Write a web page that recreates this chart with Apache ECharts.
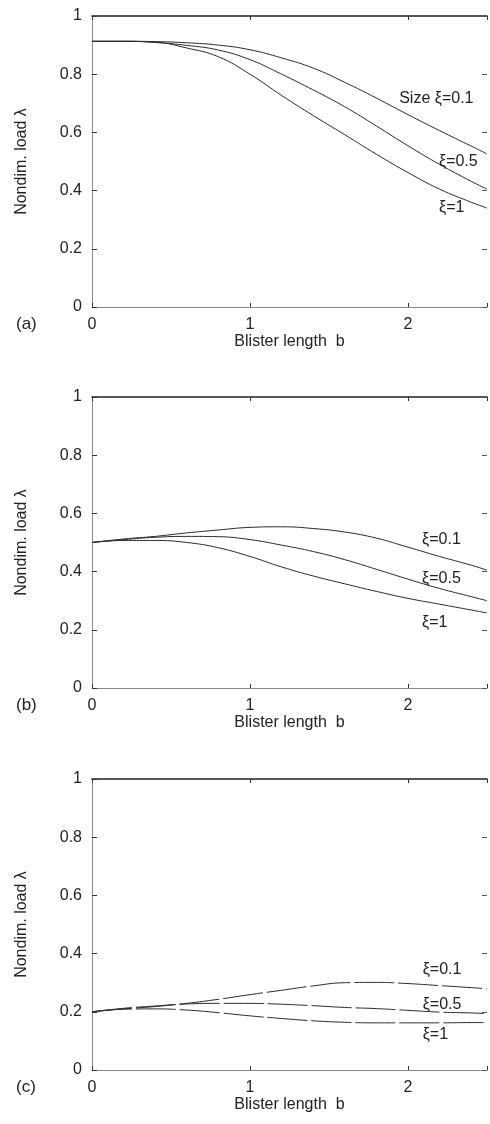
<!DOCTYPE html>
<html>
<head>
<meta charset="utf-8">
<script src="https://cdn.jsdelivr.net/npm/echarts@6/dist/echarts.min.js"></script>
<style>
  html, body { margin: 0; padding: 0; background: #fff; }
  #bucklingCharts { width: 490px; height: 1124px; }
</style>
</head>
<body>
<div id="bucklingCharts"></div>
<script>
// blister length b (x axis)
var blisterLength = [0, 0.2, 0.4, 0.6, 0.8, 1.0, 1.2, 1.4, 1.6, 1.8, 2.0, 2.2, 2.4, 2.5];

// (a) nondim. load, sizes xi = 0.1, 0.5, 1
var loadA01 = [0.913, 0.913, 0.912, 0.908, 0.900, 0.884, 0.856, 0.821, 0.772, 0.718, 0.661, 0.606, 0.553, 0.526];
var loadA05 = [0.913, 0.913, 0.909, 0.899, 0.883, 0.850, 0.800, 0.746, 0.688, 0.622, 0.554, 0.490, 0.432, 0.405];
var loadA1 = [0.913, 0.913, 0.910, 0.890, 0.860, 0.800, 0.727, 0.658, 0.592, 0.525, 0.462, 0.405, 0.360, 0.340];

// (b)
var loadB01 = [0.500, 0.512, 0.521, 0.533, 0.543, 0.552, 0.554, 0.548, 0.536, 0.515, 0.484, 0.452, 0.422, 0.405];
var loadB05 = [0.500, 0.510, 0.518, 0.521, 0.520, 0.510, 0.491, 0.469, 0.441, 0.408, 0.374, 0.342, 0.314, 0.300];
var loadB1 = [0.500, 0.507, 0.507, 0.500, 0.482, 0.452, 0.416, 0.385, 0.358, 0.332, 0.308, 0.288, 0.268, 0.258];

// (c)
var loadC01 = [0.200, 0.210, 0.218, 0.229, 0.243, 0.259, 0.274, 0.289, 0.300, 0.301, 0.297, 0.290, 0.283, 0.279];
var loadC05 = [0.200, 0.212, 0.220, 0.227, 0.229, 0.229, 0.226, 0.221, 0.215, 0.211, 0.205, 0.199, 0.196, 0.194];
var loadC1 = [0.200, 0.209, 0.210, 0.206, 0.197, 0.186, 0.177, 0.169, 0.164, 0.162, 0.162, 0.162, 0.163, 0.163];

var xTickLabels = ["0", "1", "2"];
var panelNames = ["(a)", "(b)", "(c)"];
var panelTops = [16, 397, 779];

// curve labels: [text, b, lambda]
var labelsA = [["Size ξ=0.1", 1.944, 0.716], ["ξ=0.5", 2.196, 0.499], ["ξ=1", 2.196, 0.341]];
var labelsB = [["ξ=0.1", 2.089, 0.511], ["ξ=0.5", 2.089, 0.376], ["ξ=1", 2.089, 0.226]];
var labelsC = [["ξ=0.1", 2.093, 0.346], ["ξ=0.5", 2.093, 0.226], ["ξ=1", 2.093, 0.12]];

var font = "'Liberation Sans', Arial, sans-serif";
var textColor = "#222";

function pairs(ys) {
  return blisterLength.map(function (b, i) {
    return [b, ys[i]];
  });
}

function curve(idx, ys, dashed, marks) {
  var s = {
    type: "line",
    xAxisIndex: idx * 2,
    yAxisIndex: idx * 2,
    data: pairs(ys),
    smooth: 0.45,
    showSymbol: false,
    silent: true,
    lineStyle: { color: "#2a2a2a", width: 1, type: dashed ? [40, 4] : "solid" },
    itemStyle: { color: "#2a2a2a" },
  };
  if (marks) {
    s.markPoint = {
      symbol: "circle",
      symbolSize: 0,
      silent: true,
      label: {
        show: true,
        position: "right",
        distance: 0,
        color: textColor,
        fontSize: 16,
        fontFamily: font,
      },
      data: marks.map(function (m) {
        return { coord: [m[1], m[2]], label: { formatter: m[0] } };
      }),
    };
  }
  return s;
}

var grids = [];
var xAxes = [];
var yAxes = [];
panelTops.forEach(function (top, i) {
  grids.push({ left: 92, top: top, width: 402, height: 291 });
  // bottom x axis
  xAxes.push({
    type: "value",
    gridIndex: i,
    position: "bottom",
    min: 0,
    max: 2.5,
    interval: 1,
    name: "Blister length  b",
    nameLocation: "middle",
    nameGap: 26,
    nameTextStyle: { color: textColor, fontSize: 16, fontFamily: font },
    axisLine: { onZero: false, lineStyle: { color: "#8a8a8a", width: 1 } },
    axisTick: { inside: true, length: 4, lineStyle: { color: "#333" } },
    axisLabel: {
      margin: 10,
      color: textColor,
      fontSize: 16,
      fontFamily: font,
      formatter: function (v) {
        return xTickLabels.indexOf(String(v)) >= 0 ? String(v) : "";
      },
    },
    splitLine: { show: false },
  });
  // top frame line
  xAxes.push({
    type: "value",
    gridIndex: i,
    position: "top",
    min: 0,
    max: 2.5,
    interval: 1,
    axisLine: { onZero: false, lineStyle: { color: "#222", width: 1.5 } },
    axisTick: { inside: true, length: 4, lineStyle: { color: "#333" } },
    axisLabel: { show: false },
    splitLine: { show: false },
  });
  yAxes.push({
    type: "value",
    gridIndex: i,
    position: "left",
    min: 0,
    max: 1,
    interval: 0.2,
    name: "Nondim. load λ",
    nameLocation: "middle",
    nameGap: 62,
    nameRotate: 90,
    nameTextStyle: { color: textColor, fontSize: 16, fontFamily: font },
    axisLine: { onZero: false, lineStyle: { color: "#8a8a8a", width: 1 } },
    axisTick: { inside: true, length: 5, lineStyle: { color: "#333" } },
    axisLabel: { margin: 10, color: textColor, fontSize: 16, fontFamily: font },
    splitLine: { show: false },
  });
  // right side ticks
  yAxes.push({
    type: "value",
    gridIndex: i,
    position: "right",
    min: 0,
    max: 1,
    interval: 0.2,
    axisLine: { show: false, onZero: false },
    axisTick: { inside: true, length: 5, lineStyle: { color: "#555" } },
    axisLabel: { show: false },
    splitLine: { show: false },
  });
});

var option = {
  animation: false,
  backgroundColor: "#fff",
  textStyle: { fontFamily: font },
  grid: grids,
  xAxis: xAxes,
  yAxis: yAxes,
  graphic: panelNames.map(function (name, i) {
    return {
      type: "text",
      left: 16,
      top: panelTops[i] + 300,
      style: { text: name, fill: textColor, font: "17px " + font },
    };
  }),
  series: [
    curve(0, loadA01, false, labelsA),
    curve(0, loadA05, false),
    curve(0, loadA1, false),
    curve(1, loadB01, false, labelsB),
    curve(1, loadB05, false),
    curve(1, loadB1, false),
    curve(2, loadC01, true, labelsC),
    curve(2, loadC05, true),
    curve(2, loadC1, true),
  ],
};

var myChart = echarts.init(document.getElementById("bucklingCharts"));
myChart.setOption(option);
</script>
</body>
</html>
